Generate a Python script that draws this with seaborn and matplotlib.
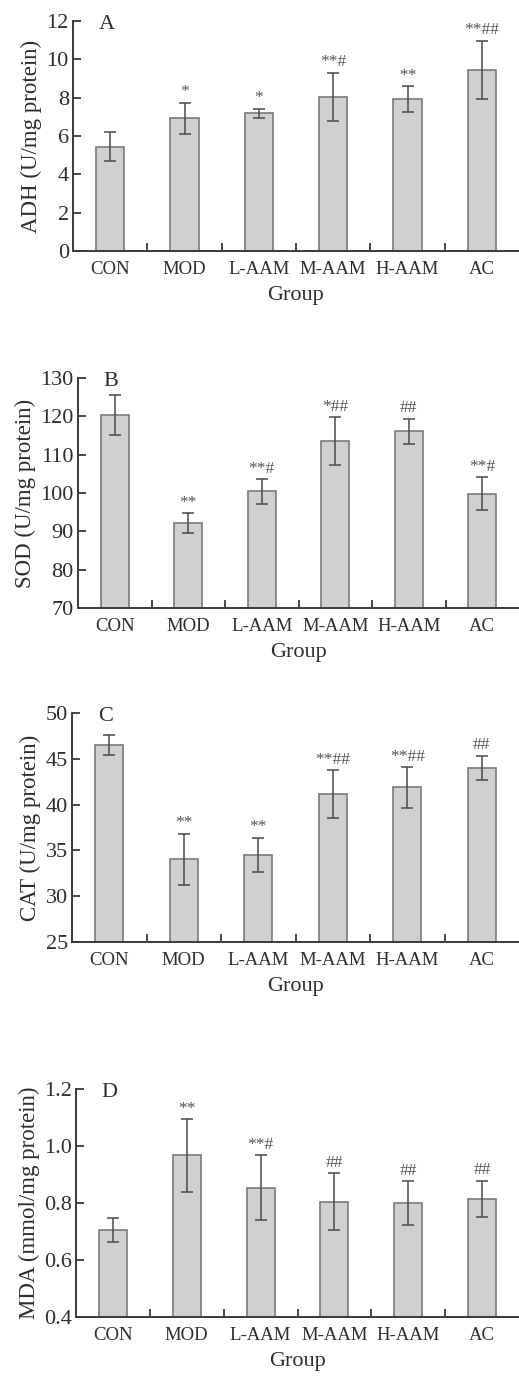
import numpy as np
import pandas as pd
import matplotlib
matplotlib.use("Agg")
import matplotlib.pyplot as plt
import seaborn as sns

groups = ["CON", "MOD", "L-AAM", "M-AAM", "H-AAM", "AC"]

adh_mean = [5.45, 6.92, 7.18, 8.05, 7.93, 9.44]
adh_sd = [0.75, 0.82, 0.25, 1.25, 0.68, 1.53]
adh_sig = ["", "*", "*", "**#", "**", "**##"]

sod_mean = [120.3, 92.2, 100.4, 113.5, 116.1, 99.8]
sod_sd = [5.2, 2.6, 3.2, 6.2, 3.3, 4.3]
sod_sig = ["", "**", "**#", "*##", "##", "**#"]

cat_mean = [46.47, 34.02, 34.53, 41.19, 41.88, 44.03]
cat_sd = [1.1, 2.8, 1.86, 2.6, 2.2, 1.3]
cat_sig = ["", "**", "**", "**##", "**##", "##"]

mda_mean = [0.706, 0.967, 0.854, 0.805, 0.800, 0.814]
mda_sd = [0.043, 0.127, 0.113, 0.100, 0.076, 0.064]
mda_sig = ["", "**", "**#", "##", "##", "##"]

panels = [
    ("A", "ADH (U/mg protein)", adh_mean, adh_sd, adh_sig, (0, 12), [0, 2, 4, 6, 8, 10, 12], "{:.0f}"),
    ("B", "SOD (U/mg protein)", sod_mean, sod_sd, sod_sig, (70, 130), [70, 80, 90, 100, 110, 120, 130], "{:.0f}"),
    ("C", "CAT (U/mg protein)", cat_mean, cat_sd, cat_sig, (25, 50), [25, 30, 35, 40, 45, 50], "{:.0f}"),
    ("D", "MDA (mmol/mg protein)", mda_mean, mda_sd, mda_sig, (0.4, 1.2), [0.4, 0.6, 0.8, 1.0, 1.2], "{:.1f}"),
]

# axes boxes in pixels: left, top, bottom (right edge = figure edge)
boxes = [(73, 21, 251), (78, 378, 608), (72, 713, 942), (76, 1089, 1317)]

sns.set_style("ticks")
plt.rcParams["font.family"] = ["Liberation Serif", "DejaVu Serif"]

W, H = 519, 1376
fig = plt.figure(figsize=(W / 100, H / 100), dpi=100)

axis_col = "#3a3a3a"
text_col = "#2e2e2e"

for (letter, ylab, mean, sd, sig, ylim, yticks, fmt), (l, t, b) in zip(panels, boxes):
    ax = fig.add_axes([l / W, 1 - b / H, (W - l) / W, (b - t) / H])
    df = pd.DataFrame({"group": groups, "value": mean})
    sns.barplot(data=df, x="group", y="value", color="#d0d0d0", edgecolor="#7a7a7a",
                linewidth=1.2, width=0.38, errorbar=None, saturation=1, ax=ax)
    ax.errorbar(np.arange(len(groups)), mean, yerr=sd, fmt="none", ecolor="#4a4a4a",
                elinewidth=1.1, capsize=4, capthick=1.1)
    span = ylim[1] - ylim[0]
    for i, s in enumerate(sig):
        if s:
            ax.text(i, mean[i] + sd[i] + span * 0.01, s, ha="center", va="bottom",
                    fontsize=12.5, color="#555555")
    ax.set_xlim(-0.5, 5.5)
    ax.set_ylim(*ylim)
    ax.set_yticks(yticks)
    ax.set_yticklabels([fmt.format(v) for v in yticks])
    ax.set_xticks(range(len(groups)))
    ax.set_xticklabels(groups)
    ax.set_xticks(np.arange(0.5, 5, 1), minor=True)
    ax.tick_params(axis="x", which="major", length=0, pad=7, labelsize=13.5, colors=text_col)
    ax.tick_params(axis="x", which="minor", direction="in", length=6, width=1.3, color=axis_col)
    ax.tick_params(axis="y", which="major", direction="in", length=6, width=1.3, pad=3,
                   labelsize=16, color=axis_col, labelcolor=text_col)
    ax.set_xlabel("Group", fontsize=16, color=text_col, labelpad=6)
    ax.set_ylabel(ylab, fontsize=16.5, color=text_col, labelpad=3)
    for sp in ["top", "right"]:
        ax.spines[sp].set_visible(False)
    for sp in ["left", "bottom"]:
        ax.spines[sp].set_color(axis_col)
        ax.spines[sp].set_linewidth(1.4)
    ax.text(0.075, 0.985, letter, transform=ax.transAxes, ha="center", va="center",
            fontsize=16, color=text_col)
    ax.set_facecolor("white")

fig.savefig("out.png", dpi=100, facecolor="white")
